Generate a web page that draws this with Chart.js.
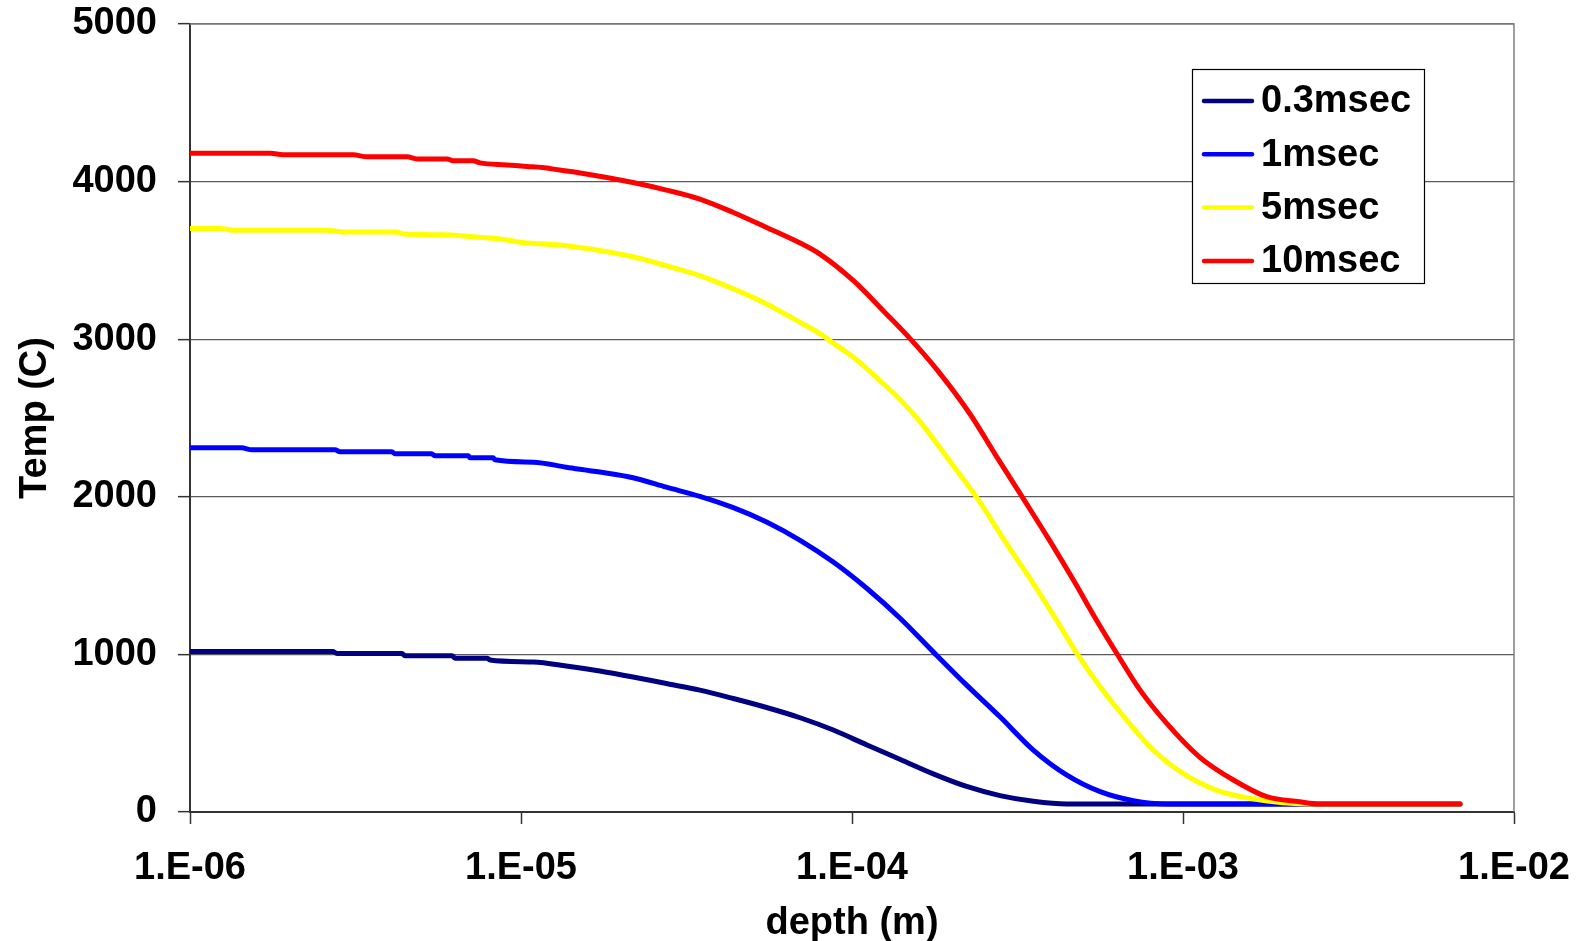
<!DOCTYPE html>
<html>
<head>
<meta charset="utf-8">
<title>Temp vs depth</title>
<script src="https://cdn.jsdelivr.net/npm/chart.js@4.4.0/dist/chart.umd.min.js"></script>
<style>
    html, body { margin: 0; padding: 0; background: #ffffff; }
    #chart { display: block; }
</style>
</head>
<body>
<canvas id="chart" width="1577" height="941"></canvas>
<script>
// Series (depth in m, temperature in C)
const depth03 = [1.00e-6, 2.70e-6, 2.78e-6, 4.37e-6, 4.46e-6, 6.19e-6, 6.33e-6, 7.89e-6, 8.06e-6,
    1.09e-5, 1.37e-5, 1.73e-5, 2.18e-5, 2.75e-5, 3.47e-5, 4.38e-5, 5.52e-5, 6.97e-5, 8.78e-5,
    1.11e-4, 1.40e-4, 1.76e-4, 2.22e-4, 2.80e-4, 3.53e-4, 4.46e-4, 6.87e-3];
const temp03 = [1018, 1018, 1006, 1006, 991, 991, 976, 976, 965,
    952, 927, 895, 857, 815, 773, 720, 663, 598, 520,
    425, 333, 242, 162, 104, 68, 51, 50];

const depth1 = [1.00e-6, 1.43e-6, 1.54e-6, 2.74e-6, 2.84e-6, 4.07e-6, 4.16e-6, 5.37e-6, 5.50e-6, 6.93e-6, 7.01e-6, 8.24e-6, 8.34e-6,
    1.09e-5, 1.37e-5, 1.73e-5, 2.18e-5, 2.75e-5, 3.47e-5, 4.38e-5, 5.52e-5, 6.97e-5, 8.78e-5,
    1.11e-4, 1.40e-4, 1.76e-4, 2.22e-4, 2.80e-4, 3.53e-4, 4.46e-4, 5.62e-4, 7.08e-4, 8.93e-4, 6.87e-3];
const temp1 = [2311, 2311, 2298, 2298, 2286, 2286, 2273, 2273, 2260, 2260, 2248, 2248, 2235,
    2220, 2188, 2157, 2121, 2061, 2003, 1931, 1840, 1724, 1586,
    1418, 1228, 1016, 805, 604, 393, 234, 129, 72, 51, 50];

const depth5 = [1.00e-6, 1.23e-6, 1.35e-6, 2.59e-6, 2.90e-6, 4.22e-6, 4.41e-6, 5.81e-6, 7.16e-6, 8.65e-6,
    1.01e-5, 1.37e-5, 2.18e-5, 2.75e-5, 3.47e-5, 4.38e-5, 5.52e-5, 6.97e-5, 8.00e-5, 8.78e-5,
    1.01e-4, 1.11e-4, 1.27e-4, 1.40e-4, 1.60e-4, 2.02e-4, 2.40e-4, 2.93e-4, 3.53e-4, 4.15e-4, 4.78e-4, 5.62e-4, 6.76e-4, 8.13e-4,
    1.00e-3, 1.26e-3, 1.59e-3, 2.01e-3, 2.54e-3, 6.87e-3];
const temp5 = [3703, 3703, 3692, 3692, 3680, 3680, 3667, 3663, 3650, 3636,
    3614, 3593, 3523, 3466, 3403, 3319, 3224, 3107, 3035, 2975,
    2885, 2812, 2700, 2615, 2480, 2199, 1985, 1703, 1449, 1217, 1006, 794, 583, 393,
    245, 139, 87, 59, 51, 50];

const depth10 = [1.00e-6, 1.75e-6, 1.91e-6, 3.11e-6, 3.43e-6, 4.53e-6, 4.85e-6, 5.98e-6, 6.23e-6, 7.16e-6, 7.52e-6, 9.07e-6,
    1.04e-5, 1.16e-5, 1.31e-5, 1.48e-5, 2.18e-5, 2.75e-5, 3.47e-5, 4.38e-5, 5.52e-5, 6.97e-5, 8.00e-5,
    1.01e-4, 1.27e-4, 1.50e-4, 1.80e-4, 2.27e-4, 2.74e-4, 3.30e-4, 3.96e-4, 4.67e-4, 5.48e-4, 6.31e-4, 7.42e-4, 8.93e-4,
    1.12e-3, 1.42e-3, 1.79e-3, 2.25e-3, 2.59e-3, 6.87e-3];
const temp10 = [4180, 4180, 4170, 4170, 4157, 4157, 4144, 4144, 4132, 4132, 4119, 4106,
    4096, 4089, 4073, 4058, 3994, 3946, 3889, 3804, 3709, 3610, 3540,
    3371, 3160, 3002, 2810, 2527, 2252, 1985, 1720, 1470, 1217, 1006, 773, 562,
    350, 203, 97, 65, 51, 50];

const seriesLabels = ['0.3msec', '1msec', '5msec', '10msec'];

// Axis ticks
const xTickValues = [1e-6, 1e-5, 1e-4, 1e-3, 1e-2];
const xTickLabels = ['1.E-06', '1.E-05', '1.E-04', '1.E-03', '1.E-02'];
const yTickValues = [0, 1000, 2000, 3000, 4000, 5000];

const FONT = { family: '"Liberation Sans", Arial, sans-serif', size: 38, weight: 'bold' };

function toPoints(xs, ys) {
    return xs.map((x, i) => ({ x: x, y: ys[i] }));
}

// Legend box drawn inside the plot area (top right)
const boxLegend = {
    id: 'boxLegend',
    afterDraw(chart) {
        const ctx = chart.ctx;
        const box = { left: 1192, top: 69, right: 1424, bottom: 283 };
        ctx.save();
        ctx.fillStyle = '#ffffff';
        ctx.fillRect(box.left, box.top, box.right - box.left, box.bottom - box.top);
        ctx.strokeStyle = '#000000';
        ctx.lineWidth = 1.2;
        ctx.strokeRect(box.left + 0.5, box.top + 0.5, box.right - box.left, box.bottom - box.top);

        ctx.font = 'bold 38px "Liberation Sans", Arial, sans-serif';
        ctx.textBaseline = 'middle';
        ctx.textAlign = 'left';
        chart.data.datasets.forEach((ds, i) => {
            const y = 101 + i * 53.3;
            ctx.strokeStyle = ds.borderColor;
            ctx.lineWidth = 4.5;
            ctx.lineCap = 'round';
            ctx.beginPath();
            ctx.moveTo(1204, y);
            ctx.lineTo(1252, y);
            ctx.stroke();
            ctx.fillStyle = '#000000';
            ctx.fillText(ds.label, 1261, y + 1);
        });
        ctx.restore();
    }
};

// Grey top and right edges of the plot area
const plotFrame = {
    id: 'plotFrame',
    beforeDatasetsDraw(chart) {
        const a = chart.chartArea;
        const ctx = chart.ctx;
        ctx.save();
        ctx.strokeStyle = '#808080';
        ctx.lineWidth = 1.5;
        ctx.beginPath();
        ctx.moveTo(a.left, a.top);
        ctx.lineTo(a.right, a.top);
        ctx.lineTo(a.right, a.bottom);
        ctx.stroke();
        ctx.restore();
    }
};

document.addEventListener('DOMContentLoaded', function() {
    const ctx = document.getElementById('chart');
    const colors = ['#000080', '#0000ff', '#ffff00', '#ff0000'];
    const sets = [[depth03, temp03], [depth1, temp1], [depth5, temp5], [depth10, temp10]];

    new Chart(ctx, {
        type: 'line',
        data: {
            datasets: sets.map((s, i) => ({
                label: seriesLabels[i],
                data: toPoints(s[0], s[1]),
                borderColor: colors[i],
                backgroundColor: colors[i],
                borderWidth: 5,
                pointRadius: 0,
                cubicInterpolationMode: 'monotone',
                fill: false,
                borderJoinStyle: 'round',
                borderCapStyle: 'round',
                order: sets.length - i   // later series painted on top
            }))
        },
        options: {
            responsive: false,
            animation: false,
            layout: { padding: { top: 24, right: 63, bottom: 0, left: 0 } },
            plugins: {
                legend: { display: false },
                tooltip: { enabled: false }
            },
            scales: {
                x: {
                    type: 'logarithmic',
                    min: xTickValues[0],
                    max: xTickValues[xTickValues.length - 1],
                    afterBuildTicks: scale => {
                        scale.ticks = xTickValues.map(v => ({ value: v }));
                    },
                    afterFit: scale => {
                        scale.height = 129;
                        scale.paddingLeft = 0;
                        scale.paddingRight = 0;
                    },
                    ticks: {
                        autoSkip: false,
                        maxRotation: 0,
                        padding: 22,
                        color: '#000000',
                        font: FONT,
                        callback: (value, index) => xTickLabels[index]
                    },
                    grid: {
                        drawOnChartArea: false,
                        drawTicks: true,
                        tickLength: 12,
                        tickColor: '#333333',
                        tickWidth: 1.5
                    },
                    border: { color: '#333333', width: 2 },
                    title: {
                        display: true,
                        text: 'depth (m)',
                        color: '#000000',
                        font: FONT,
                        padding: { top: 0, bottom: -5 }
                    }
                },
                y: {
                    min: 0,
                    max: 5000,
                    afterBuildTicks: scale => {
                        scale.ticks = yTickValues.map(v => ({ value: v }));
                    },
                    afterFit: scale => {
                        scale.width = 190;
                        scale.paddingTop = 0;
                        scale.paddingBottom = 0;
                    },
                    ticks: {
                        padding: 21,
                        color: '#000000',
                        font: FONT,
                        callback: value => String(value)
                    },
                    grid: {
                        color: '#5a5a5a',
                        lineWidth: 1.3,
                        drawTicks: true,
                        tickLength: 12,
                        tickColor: '#333333',
                        tickWidth: 1.5
                    },
                    border: { color: '#333333', width: 2 },
                    title: {
                        display: true,
                        text: 'Temp (C)',
                        color: '#000000',
                        font: FONT,
                        padding: { top: 13, bottom: 0 }
                    }
                }
            }
        },
        plugins: [plotFrame, boxLegend]
    });
});
</script>
</body>
</html>
